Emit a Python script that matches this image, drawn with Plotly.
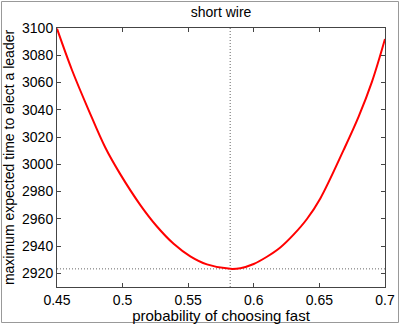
import plotly.graph_objects as go

prob = [0.45, 0.4614, 0.4741, 0.4868, 0.4982, 0.5134, 0.5262, 0.5389, 0.5516, 0.5643,
        0.5821, 0.5897, 0.5999, 0.610, 0.6202, 0.6303, 0.6405, 0.6507, 0.6685, 0.6799,
        0.6901, 0.70]
time = [3099.5, 3069.2, 3039.8, 3012.3, 2992.8, 2970.3, 2954.4, 2941.7, 2932.5, 2926.6,
        2923.3, 2923.8, 2926.9, 2932.2, 2939.0, 2948.4, 2959.9, 2975.0, 3010.6, 3035.0,
        3060.7, 3092.0]
opt_p = 0.582
opt_t = 2923.3
x_ticks = [0.45, 0.5, 0.55, 0.6, 0.65, 0.7]
x_tick_text = ["0.45", "0.5", "0.55", "0.6", "0.65", "0.7"]
y_ticks = [2920, 2940, 2960, 2980, 3000, 3020, 3040, 3060, 3080, 3100]
x_range = [0.45, 0.7]
y_range = [2910, 3100]

fig = go.Figure()
fig.add_trace(go.Scatter(x=[opt_p, opt_p], y=y_range, mode="lines",
                         line=dict(color="#666666", width=1, dash="1px,2px"), hoverinfo="skip"))
fig.add_trace(go.Scatter(x=x_range, y=[opt_t, opt_t], mode="lines",
                         line=dict(color="#666666", width=1, dash="1px,2px"), hoverinfo="skip"))
fig.add_trace(go.Scatter(x=prob, y=time, mode="lines", line=dict(color="#ff0000", width=2),
                         line_shape="spline"))

L, R, T, B = 57, 15, 28, 37
W, H = 400, 324
pw, ph = W - L - R, H - T - B

axis_common = dict(showgrid=False, zeroline=False, showline=True, linecolor="#444444",
                   linewidth=1, mirror="allticks", ticks="inside", ticklen=4,
                   tickcolor="#444444", tickfont=dict(size=14, color="#000000"),
                   automargin=False)

fig.update_layout(
    width=W, height=H, margin=dict(l=L, r=R, t=T, b=B),
    paper_bgcolor="white", plot_bgcolor="white", showlegend=False,
    font=dict(family="Liberation Sans, Arial, sans-serif", color="#000000"),
    title=dict(text="short wire", x=(L + pw / 2) / W, xanchor="center", y=1 - 12 / H,
               yanchor="middle", font=dict(size=14)),
    xaxis=dict(range=x_range, tickvals=x_ticks, ticktext=x_tick_text,
               title=dict(text="probability of choosing fast", font=dict(size=15), standoff=0),
               **axis_common),
    yaxis=dict(range=y_range, tickvals=y_ticks,
               title=dict(text="maximum expected time to elect a leader", font=dict(size=14), standoff=4),
               **axis_common),
)

fig.add_shape(type="rect", xref="paper", yref="paper",
              x0=-(L - 1.5) / pw, x1=1 + (R - 1.5) / pw,
              y0=-(B - 1.5) / ph, y1=1 + (T - 1.5) / ph,
              line=dict(color="#999999", width=1), fillcolor="rgba(0,0,0,0)", layer="below")

fig.write_html("out.html")
